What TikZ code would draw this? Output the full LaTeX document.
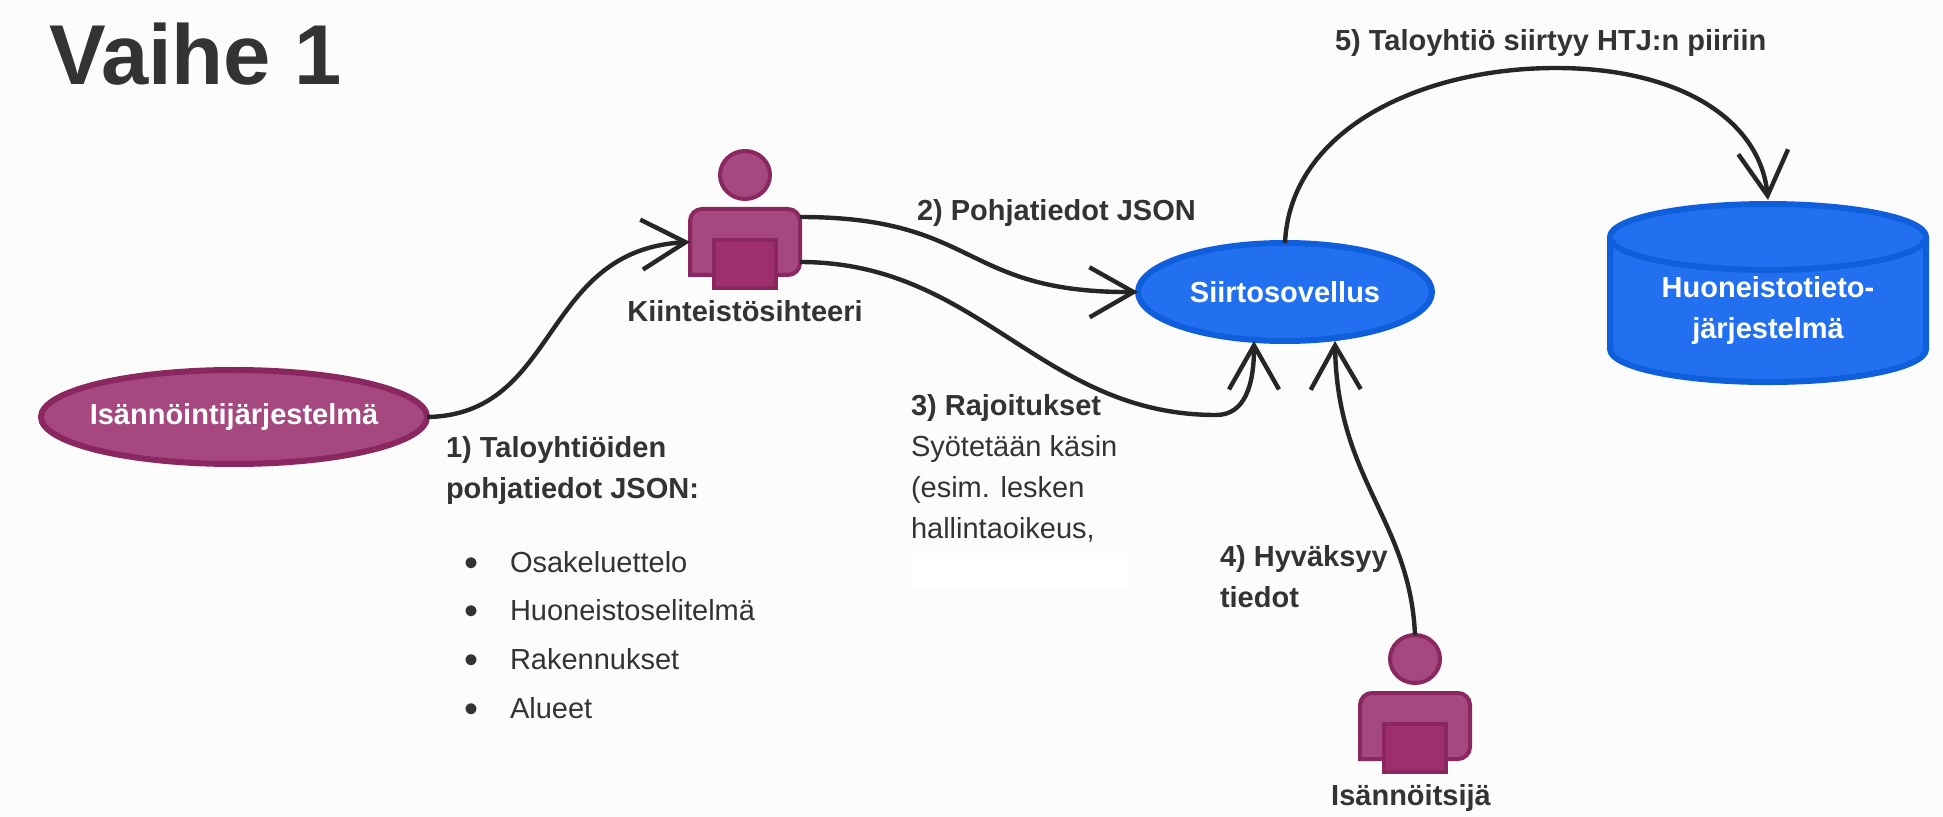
\documentclass[tikz,border=0pt]{standalone}
\usepackage{fontspec}
\setmainfont{Liberation Sans}
\usepackage{tikz}
\usetikzlibrary{arrows.meta}
\usetikzlibrary{positioning}
\usetikzlibrary{shapes.geometric}
\definecolor{paper}{HTML}{FCFCFC}
\definecolor{ink}{HTML}{333333}
\definecolor{plum}{HTML}{A5487F}
\definecolor{plumdark}{HTML}{8A2660}
\definecolor{plumdesk}{HTML}{9C2F6C}
\definecolor{azure}{HTML}{2270F0}
\definecolor{azuredark}{HTML}{0F5FDC}
\newcommand{\listdot}{\raisebox{-2pt}{\fontsize{20}{20}\selectfont\textbullet}\hspace{16pt}}
\begin{document}
\begin{tikzpicture}[
    x=0.5pt, y=-0.5pt,
    every node/.style={font=\fontsize{14.5}{20.5}\selectfont, text=ink, outer sep=0pt},
    ovaltext/.style={text=white, font=\fontsize{14.5}{20.5}\selectfont\bfseries},
    plumoval/.style={
        draw=plumdark, fill=plum, ellipse, line width=3pt,
        inner sep=0pt, minimum width=193pt, minimum height=47pt
    },
    blueoval/.style={
        draw=azuredark, fill=azure, ellipse, line width=3pt,
        inner sep=0pt, minimum width=147pt, minimum height=49pt
    },
    store/.style={
        cylinder, shape border rotate=90, aspect=0.31,
        draw=azuredark, line width=3pt, cylinder uses custom fill,
        cylinder body fill=azure, cylinder end fill=azure,
        inner sep=0pt, minimum width=158pt, minimum height=89pt, align=center,
        ovaltext
    },
    head/.style={
        draw=plumdark, fill=plum, ellipse, line width=2pt, inner sep=0pt,
        minimum width=25pt, minimum height=24pt
    },
    torso/.style={inner sep=0pt, minimum width=55pt, minimum height=33pt},
    torsoline/.style={draw=plumdark, fill=plum, line width=2pt},
    desk/.style={
        draw=plumdark, fill=plumdesk, line width=2pt, inner sep=0pt,
        minimum width=31pt, minimum height=24pt
    },
    who/.style={font=\fontsize{14.5}{20.5}\selectfont\bfseries},
    note/.style={align=left, inner sep=0pt},
    flow/.style={draw=black!85, line width=2.2pt, -{Straight Barb[length=22pt,width=25pt,line width=2.2pt]}}
]
\useasboundingbox[fill=paper] (0,0) rectangle (1943,817);
\node[anchor=base west, inner sep=0pt, font=\fontsize{42.5}{45}\selectfont\bfseries] (title) at (49,85) {Vaihe 1};

% systems
\node[plumoval, label={[ovaltext]center:Isännöintijärjestelmä}] (isannointi) at (234,417) {};
\node[blueoval, label={[ovaltext]center:Siirtosovellus}] (siirto) at (1285,292) {};
\node[store] (huoneisto) at (1768,311) {Huoneistotieto-\\järjestelmä};

% people
\node[head] (sihteeriHead) at (745,175) {};
\node[torso, below=5pt of sihteeriHead] (sihteeriBody) {};
\node[head] (isannoitsijaHead) at (1415,659) {};
\node[torso, below=5pt of isannoitsijaHead] (isannoitsijaBody) {};
\foreach \who in {sihteeri,isannoitsija}
    \draw[torsoline] (\who Body.south west) [rounded corners=6pt] -- (\who Body.north west) -- (\who Body.north east) -- (\who Body.south east) [sharp corners] -- cycle;
\node[desk, below=-17.5pt of sihteeriBody] (sihteeriDesk) {};
\node[who, below=3pt of sihteeriDesk] (sihteeriName) {Kiinteistösihteeri};
\node[desk, below=-17.5pt of isannoitsijaBody] (isannoitsijaDesk) {};
\node[who, below=3pt of isannoitsijaDesk, xshift=-2pt] (isannoitsijaName) {Isännöitsijä};

% labels
\node[note, anchor=west, font=\fontsize{14.5}{20.5}\selectfont\bfseries] (vaihe5) at (1335,43) {5) Taloyhtiö siirtyy HTJ:n piiriin};
\node[note, anchor=west, font=\fontsize{14.5}{20.5}\selectfont\bfseries] (vaihe2) at (917,213) {2) Pohjatiedot JSON};
\node[note, anchor=north west] (vaihe3) at (911,394) {\textbf{3) Rajoitukset}\\Syötetään käsin\\(esim. lesken\\hallintaoikeus,};
\node[fill=white, inner sep=0pt, minimum width=108pt, minimum height=17pt] (peite) at (1020,571) {};
\node[note, anchor=north west, font=\fontsize{14.5}{20.5}\selectfont\bfseries] (vaihe4) at (1220,545) {4) Hyväksyy\\tiedot};
\node[note, anchor=north west, font=\fontsize{14.5}{20.5}\selectfont\bfseries] (vaihe1) at (446,436) {1) Taloyhtiöiden\\pohjatiedot JSON:};
\node[note, anchor=north west, font=\fontsize{14.5}{24.4}\selectfont] (vaihe1lista) at (464,551) {%
    \listdot Osakeluettelo\\
    \listdot Huoneistoselitelmä\\
    \listdot Rakennukset\\
    \listdot Alueet};

% connectors
\coordinate (rajoitusBend) at (1216,415);
\coordinate (kaariTop) at (1556,68);
\draw[flow] (isannointi.east) .. controls (560,415) and (540,250) .. (sihteeriBody.west);
\draw[flow] ([yshift=12.5pt]sihteeriBody.east) .. controls (980,217) and (960,293) .. (siirto.west);
\draw[flow] ([yshift=-10pt]sihteeriBody.east) .. controls (980,262) and (1040,415) .. (rajoitusBend) .. controls (1245,415) and (1254,385) .. ([xshift=-15.5pt]siirto.south);
\draw[flow] (isannoitsijaHead.north) .. controls (1410,520) and (1337,480) .. ([xshift=25pt]siirto.south);
\draw[flow] (siirto.north) .. controls (1290,130) and (1420,68) .. (kaariTop) .. controls (1680,68) and (1760,120) .. ([yshift=2pt]huoneisto.north);
\end{tikzpicture}
\end{document}
